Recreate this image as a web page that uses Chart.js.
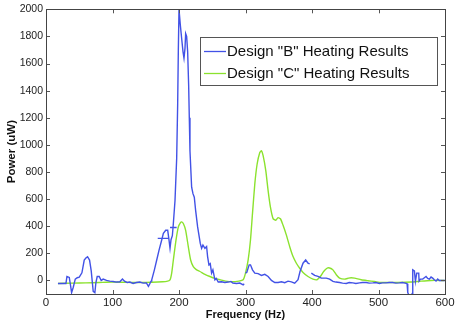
<!DOCTYPE html>
<html>
<head>
<meta charset="utf-8">
<script src="https://cdn.jsdelivr.net/npm/chart.js@4.4.1/dist/chart.umd.min.js"></script>
<style>
    html, body { margin: 0; padding: 0; background: #fff; }
    #wrap { width: 457px; height: 329px; }
</style>
</head>
<body>
<div id="wrap"><canvas id="powerChart" width="457" height="329"></canvas></div>
<script>
// --- Data ---
const xTicks = [0, 100, 200, 300, 400, 500, 600];
const yTicks = [0, 200, 400, 600, 800, 1000, 1200, 1400, 1600, 1800, 2000];

const labelB = 'Design "B" Heating Results';
const labelC = 'Design "C" Heating Results';

// null = break between sweep segments
const freqB = [
    18, 24, 30, 31.5, 35, 37, 38.5, 41, 44, 47, 50, 54, 57.5, 60, 62.5, 65.5, 68, 71, 73.5, 75,
    77, 80, 83, 86, 91, 96, 101, 106, 111, 115, 118, 122, 126, 131, 136, 141, 146, 151, 154, 155,
    158, 159, 163, 166.5, 170, 174, 176.5, 180, 183, 185, 186.5, 188, 190, 191.5, 194, 196.5, 198, 199,
    200, 202, 204, 206, 207.5, 209, 210, 211.5, 213, 214.5, 215.5, 216.5, 219, 221, 223, 225, 228, 232,
    234, 236, 239, 241.5, 243, 245, 247, 249, 251, 254, 256, 259, 264, 269, 274, 278, 281, 286.5,
    291.5, 296.5, 298, 298.5,
    168, 184, 184.5,
    186.5, 196.5, 197,
    300, 302, 305.5, 307.5, 310.5, 314, 319, 324, 329, 334, 339, 344, 349, 354, 359, 364, 369, 374,
    379, 382, 386.5, 390.5, 394, 396.5, 397,
    399, 404, 409, 414, 421.5, 426.5, 431.5, 436, 441.5, 446, 451.5, 456, 461.5, 466, 471.5, 476,
    481.5, 486, 491.5, 496, 501.5, 506, 511.5, 516, 521.5, 526, 531.5, 536, 541.5, 543, 544, 546,
    549, 551, 551.5, 554, 555.5, 557.5, 560.5, 561, 563, 566.5, 569, 571.5, 574, 576.5, 579, 581.5,
    584, 586.5, 589, 591.5, 596.5, 600
];
const powerB = [
    -22, -22, -22, 29, 22, -40, -90, -50, 10, 20, 25, 56, 150, 165, 175, 150, 70, -80, -90, -17,
    29, 29, 0, 10, 0, -5, -8, -12, -10, 10, -5, -15, -12, -22, -15, -12, -20, -18, -44, -35,
    -5, 5, 78, 151, 224, 298, 347, 370, 370, 298, 237, 300, 330, 420, 590, 900, 1300, 1700,
    2000, 1883, 1785, 1688, 1639, 1712, 1821, 1800, 1688, 1444, 1200, 956, 688, 640, 614, 517, 395, 273,
    237, 261, 237, 250, 176, 115, 124, 54, 78, 5, 15, -12, -10, -15, -12, -7, -19, -22,
    -19, -33, -25, null,
    310, 310, null,
    390, 390, null,
    54, 60, 115, 115, 78, 54, 50, 37, 45, 29, 0, -15, -15, -10, -17, -5, -10, -20,
    5, 66, 127, 151, 127, 122, null,
    54, 37, 30, 17, 17, 10, -7, -12, -15, -20, -22, -15, -18, -22, -18, -15,
    -15, -20, -18, -15, -22, -18, -18, -15, -15, -20, -18, -15, -22, -25, -90, -110,
    -110, -95, 78, 70, -7, 54, 54, -5, 10, 10, 20, 29, 15, 10, 25, 17,
    5, -5, 10, 0, 0, 0
];

const freqC = [
    18, 40, 60, 80, 100, 120, 140, 160, 175, 181.5, 186.5, 189, 191.5, 195.5, 199, 202, 204, 206.5,
    210, 214, 217.5, 221.5, 226, 231.5, 239, 246.5, 254, 261.5, 270, 280, 290, 296.5, 300, 304,
    307.5, 310.5, 314, 317.5, 321.5, 324, 326.5, 330.5, 334, 337.5, 341.5, 345.5, 349, 352.5, 356.5,
    361.5, 366.5, 371.5, 376.5, 381.5, 386.5, 394, 401.5, 407.5, 412.5, 417.5, 422.5, 426.5, 431.5,
    436.5, 441.5, 449, 455, 459, 464, 474, 484, 494, 504, 529, 549, 564, 579, 599
];
const powerC = [
    -22, -20, -18, -15, -12, -14, -15, -13, -10, -7, 5, 54, 151, 298, 395, 425, 432, 420,
    370, 249, 151, 102, 80, 66, 45, 29, 15, 5, -5, -10, -5, 5, 54, 151,
    298, 493, 712, 859, 944, 956, 920, 810, 663, 541, 456, 444, 463, 455, 407,
    334, 249, 176, 127, 90, 59, 29, 10, 5, 29, 66, 90, 92, 78,
    42, 17, 10, 17, 20, 17, 5, -2, -8, -15, -15, -12, -5, 0, 0
];

const colorB = '#4252e6';
const colorC = '#8be22e';
const FONT = '"Liberation Sans", Arial, Helvetica, sans-serif';

function toPoints(xs, ys) {
    return xs.map((x, i) => ({ x: x, y: ys[i] }));
}

// Box frame with inward (MATLAB style) ticks on all four sides
const framePlugin = {
    id: 'frame',
    afterDatasetsDraw(chart) {
        const { ctx, chartArea: a, scales } = chart;
        const len = 4;
        ctx.save();
        ctx.strokeStyle = '#555';
        ctx.lineWidth = 1;
        ctx.beginPath();
        xTicks.forEach(v => {
            const px = Math.round(scales.x.getPixelForValue(v)) + 0.5;
            ctx.moveTo(px, a.bottom); ctx.lineTo(px, a.bottom - len);
            ctx.moveTo(px, a.top); ctx.lineTo(px, a.top + len);
        });
        yTicks.forEach(v => {
            const py = Math.round(scales.y.getPixelForValue(v)) + 0.5;
            ctx.moveTo(a.left, py); ctx.lineTo(a.left + len, py);
            ctx.moveTo(a.right, py); ctx.lineTo(a.right - len, py);
        });
        ctx.stroke();
        ctx.strokeStyle = '#444';
        ctx.strokeRect(Math.round(a.left) + 0.5, Math.round(a.top) + 0.5,
            Math.round(a.right - a.left), Math.round(a.bottom - a.top));
        ctx.restore();
    }
};

// Legend box drawn inside the plot area
const boxLegendPlugin = {
    id: 'boxLegend',
    afterDraw(chart) {
        const { ctx } = chart;
        const x0 = 200, y0 = 37, w = 237, h = 48;
        ctx.save();
        ctx.fillStyle = '#fff';
        ctx.fillRect(x0, y0, w, h);
        ctx.strokeStyle = '#555';
        ctx.lineWidth = 1;
        ctx.strokeRect(x0 + 0.5, y0 + 0.5, w, h);
        ctx.font = '15px ' + FONT;
        ctx.textBaseline = 'middle';
        const rows = [[labelB, colorB, 51.5], [labelC, colorC, 73.5]];
        rows.forEach(r => {
            ctx.strokeStyle = r[1];
            ctx.lineWidth = 1.3;
            ctx.beginPath();
            ctx.moveTo(x0 + 4, r[2]);
            ctx.lineTo(x0 + 26, r[2]);
            ctx.stroke();
            ctx.fillStyle = '#111';
            ctx.fillText(r[0], x0 + 27, r[2] + 0.5);
        });
        ctx.restore();
    }
};

const ctx = document.getElementById('powerChart').getContext('2d');
new Chart(ctx, {
    type: 'line',
    data: {
        datasets: [
            {
                label: labelB,
                data: toPoints(freqB, powerB),
                borderColor: colorB,
                borderWidth: 1.4,
                pointRadius: 0,
                tension: 0,
                spanGaps: false,
                order: 1
            },
            {
                label: labelC,
                data: toPoints(freqC, powerC),
                borderColor: colorC,
                borderWidth: 1.4,
                pointRadius: 0,
                tension: 0.2,
                order: 2
            }
        ]
    },
    options: {
        responsive: false,
        animation: false,
        layout: { padding: { top: 7, right: 12, left: 0, bottom: 0 } },
        plugins: {
            legend: { display: false },
            tooltip: { enabled: false }
        },
        scales: {
            x: {
                type: 'linear',
                min: 0,
                max: 600,
                afterBuildTicks: s => { s.ticks = xTicks.map(v => ({ value: v })); },
                afterFit: s => { s.height = 35; },
                grid: { display: false, drawTicks: false },
                border: { display: false },
                ticks: {
                    color: '#222', font: { family: FONT, size: 11.5 }, padding: 2, maxRotation: 0,
                    callback: v => String(v)
                },
                title: {
                    display: true,
                    text: 'Frequency (Hz)',
                    color: '#111',
                    font: { family: FONT, size: 11, weight: 'bold' },
                    padding: { top: 0, bottom: 7 }
                }
            },
            y: {
                min: -100,
                max: 2000,
                afterBuildTicks: s => { s.ticks = yTicks.map(v => ({ value: v })); },
                afterFit: s => { s.width = 46; },
                grid: { display: false, drawTicks: false },
                border: { display: false },
                ticks: {
                    color: '#222', font: { family: FONT, size: 10.5 }, padding: 3,
                    callback: v => String(v)
                },
                title: {
                    display: true,
                    text: 'Power (uW)',
                    color: '#111',
                    font: { family: FONT, size: 11.5, weight: 'bold' },
                    padding: { top: 5, bottom: 0 }
                }
            }
        }
    },
    plugins: [framePlugin, boxLegendPlugin]
});
</script>
</body>
</html>
